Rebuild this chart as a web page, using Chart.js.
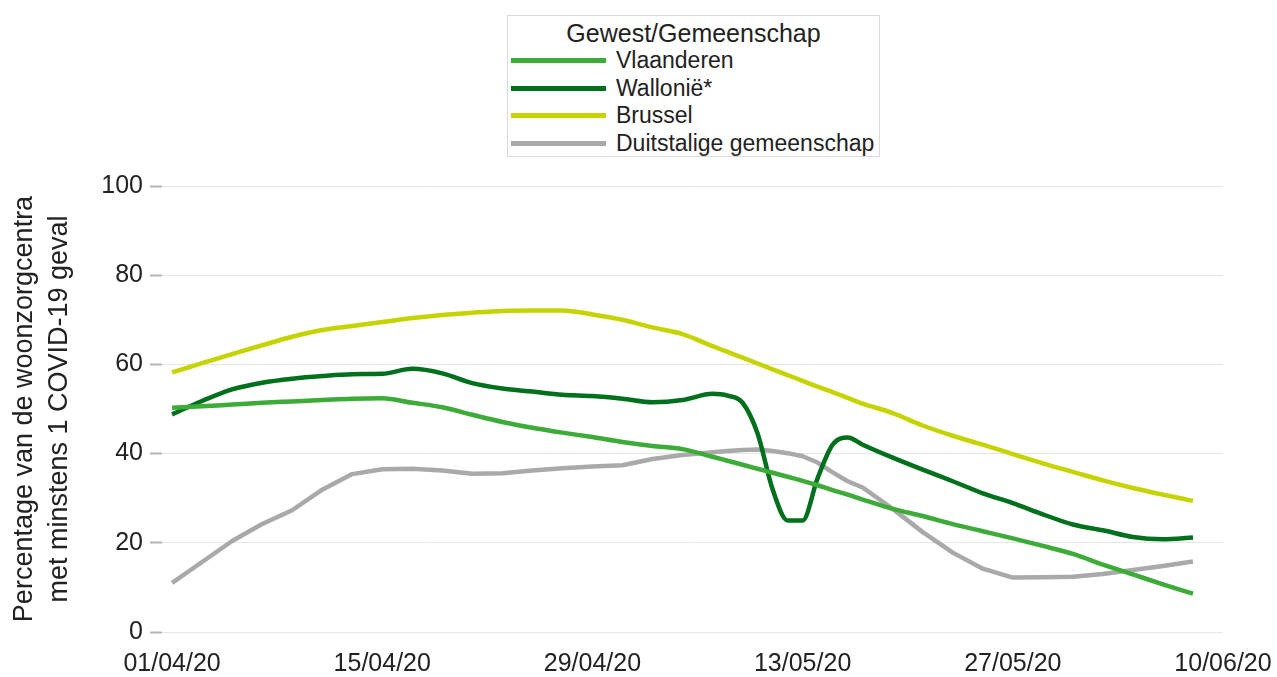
<!DOCTYPE html>
<html lang="nl">
<head>
<meta charset="utf-8">
<title>Woonzorgcentra met minstens 1 COVID-19 geval</title>
<script src="https://cdn.jsdelivr.net/npm/chart.js@4/dist/chart.umd.min.js"></script>
<style>
  html, body { margin: 0; padding: 0; background: #fff; overflow: hidden; }
  #wrap { position: relative; width: 1277px; height: 677px; }
  #grafiek { display: block; }
  #legend {
    position: absolute; left: 507px; top: 15px; width: 373px; height: 142px;
    box-sizing: border-box; border: 1px solid #dadada; background: #fff;
    font-family: "Liberation Sans", Arial, sans-serif; color: #222;
  }
  #legend .titel { text-align: center; font-size: 25px; line-height: 28px; padding-top: 3px; }
  #legend ul { list-style: none; margin: 0; padding: 0; }
  #legend li { display: flex; align-items: center; height: 27.5px; font-size: 23px; }
  #legend .lijn { width: 95px; height: 5px; margin-left: 3px; margin-right: 10px; }
</style>
</head>
<body>
<div id="wrap">
  <canvas id="grafiek" width="1277" height="677"></canvas>
  <div id="legend"><div class="titel">Gewest/Gemeenschap</div><ul id="legendList"></ul></div>
</div>
<script>
/* ======= Data ======= */
// dagen na 01/04/20
const dagen = [0, 2, 4, 6, 8, 10, 12, 14, 16, 18, 20, 22, 24, 26, 28, 30, 32, 34, 36, 37,
  38, 39, 40, 41, 42, 43, 44, 45, 46, 48, 50, 52, 54, 56, 58, 60, 62, 64, 66, 68];

const vlaanderen = [50.3, 50.6, 51.0, 51.4, 51.7, 52.0, 52.3, 52.4, 51.4, 50.4, 48.7, 47.1, 45.8, 44.7, 43.7, 42.6, 41.7, 41.0, 39.3, 38.4,
  37.5, 36.6, 35.7, 34.8, 33.9, 32.9, 31.8, 30.8, 29.7, 27.6, 26.0, 24.2, 22.6, 21.0, 19.3, 17.5, 15.1, 12.9, 10.7, 8.6];

const wallonie = [48.8, 51.8, 54.4, 55.9, 56.8, 57.4, 57.8, 57.9, 59.0, 58.0, 55.8, 54.6, 53.9, 53.2, 52.9, 52.3, 51.5, 52.0, 53.4, 53.0,
  51.4, 44.5, 32.0, 25.0, 25.0, 34.5, 42.0, 43.6, 42.0, 39.1, 36.4, 33.8, 31.1, 28.9, 26.4, 24.1, 22.8, 21.3, 20.8, 21.2];

const brussel = [58.2, 60.3, 62.3, 64.3, 66.2, 67.7, 68.6, 69.5, 70.4, 71.1, 71.6, 72.0, 72.1, 72.1, 71.2, 70.0, 68.3, 66.8, 64.1, 62.8,
  61.5, 60.2, 58.9, 57.6, 56.3, 55.0, 53.8, 52.5, 51.2, 49.1, 46.3, 44.0, 42.0, 39.9, 37.8, 35.9, 34.0, 32.3, 30.8, 29.4];

const duitstalig = [11.0, 15.7, 20.4, 24.2, 27.3, 31.9, 35.4, 36.5, 36.6, 36.2, 35.5, 35.6, 36.2, 36.7, 37.1, 37.4, 38.8, 39.7, 40.3, 40.6,
  40.8, 40.9, 40.6, 40.1, 39.4, 38.0, 35.8, 33.8, 32.4, 27.6, 22.4, 17.8, 14.2, 12.2, 12.3, 12.4, 13.0, 13.9, 14.8, 15.8];

const xTickDagen = [0, 14, 28, 42, 56, 70];
const xTickLabels = ['01/04/20', '15/04/20', '29/04/20', '13/05/20', '27/05/20', '10/06/20'];

const reeksen = [
  { label: 'Vlaanderen', waarden: vlaanderen, kleur: '#3dab37', glad: true },
  { label: 'Wallonië*', waarden: wallonie, kleur: '#00701c', glad: true },
  { label: 'Brussel', waarden: brussel, kleur: '#c5d400', glad: true },
  { label: 'Duitstalige gemeenschap', waarden: duitstalig, kleur: '#a9a9a9', glad: false }
];

/* ======= HTML legende ======= */
const htmlLegend = {
  id: 'htmlLegend',
  afterUpdate(chart) {
    const ul = document.getElementById('legendList');
    ul.innerHTML = '';
    chart.data.datasets.forEach(ds => {
      const li = document.createElement('li');
      const lijn = document.createElement('span');
      lijn.className = 'lijn';
      lijn.style.background = ds.borderColor;
      const tekst = document.createElement('span');
      tekst.textContent = ds.label;
      li.appendChild(lijn);
      li.appendChild(tekst);
      ul.appendChild(li);
    });
  }
};

/* ======= Grafiek ======= */
Chart.defaults.font.family = "'Liberation Sans', Arial, sans-serif";
Chart.defaults.color = '#222';

new Chart(document.getElementById('grafiek'), {
  type: 'line',
  data: {
    datasets: reeksen.map(r => ({
      label: r.label,
      data: dagen.map((d, i) => ({ x: d, y: r.waarden[i] })),
      borderColor: r.kleur,
      backgroundColor: r.kleur,
      borderWidth: 4.5,
      pointRadius: 0,
      cubicInterpolationMode: r.glad ? 'monotone' : 'default',
      tension: 0,
      borderJoinStyle: 'round',
      fill: false
    }))
  },
  options: {
    responsive: false,
    animation: false,
    layout: { padding: { top: 186, right: 54, bottom: 0, left: 0 } },
    plugins: {
      legend: { display: false },
      tooltip: { enabled: false }
    },
    scales: {
      x: {
        type: 'linear',
        min: -0.67,
        max: 70,
        grid: { display: false, drawTicks: false },
        border: { display: false },
        afterBuildTicks: scale => { scale.ticks = xTickDagen.map(v => ({ value: v })); },
        afterFit: scale => {
          scale.height = 45;
          scale.paddingLeft = 0;
          scale.paddingRight = 0;
        },
        ticks: {
          autoSkip: false,
          maxRotation: 0,
          padding: 20,
          font: { size: 25, lineHeight: 1.0 },
          callback: v => xTickLabels[xTickDagen.indexOf(v)]
        }
      },
      y: {
        min: 0,
        max: 100,
        afterFit: scale => { scale.width = 162; },
        grid: { color: '#e6e6e6', lineWidth: 1, tickLength: 12, tickColor: '#b5b5b5', tickWidth: 2 },
        border: { display: false },
        ticks: { stepSize: 20, padding: 7, font: { size: 25 } },
        title: {
          display: true,
          text: ['Percentage van de woonzorgcentra', 'met minstens 1 COVID-19 geval'],
          font: { size: 27, lineHeight: 1.3 },
          padding: { top: 6.5, bottom: 10 }
        }
      }
    }
  },
  plugins: [htmlLegend]
});
</script>
</body>
</html>
